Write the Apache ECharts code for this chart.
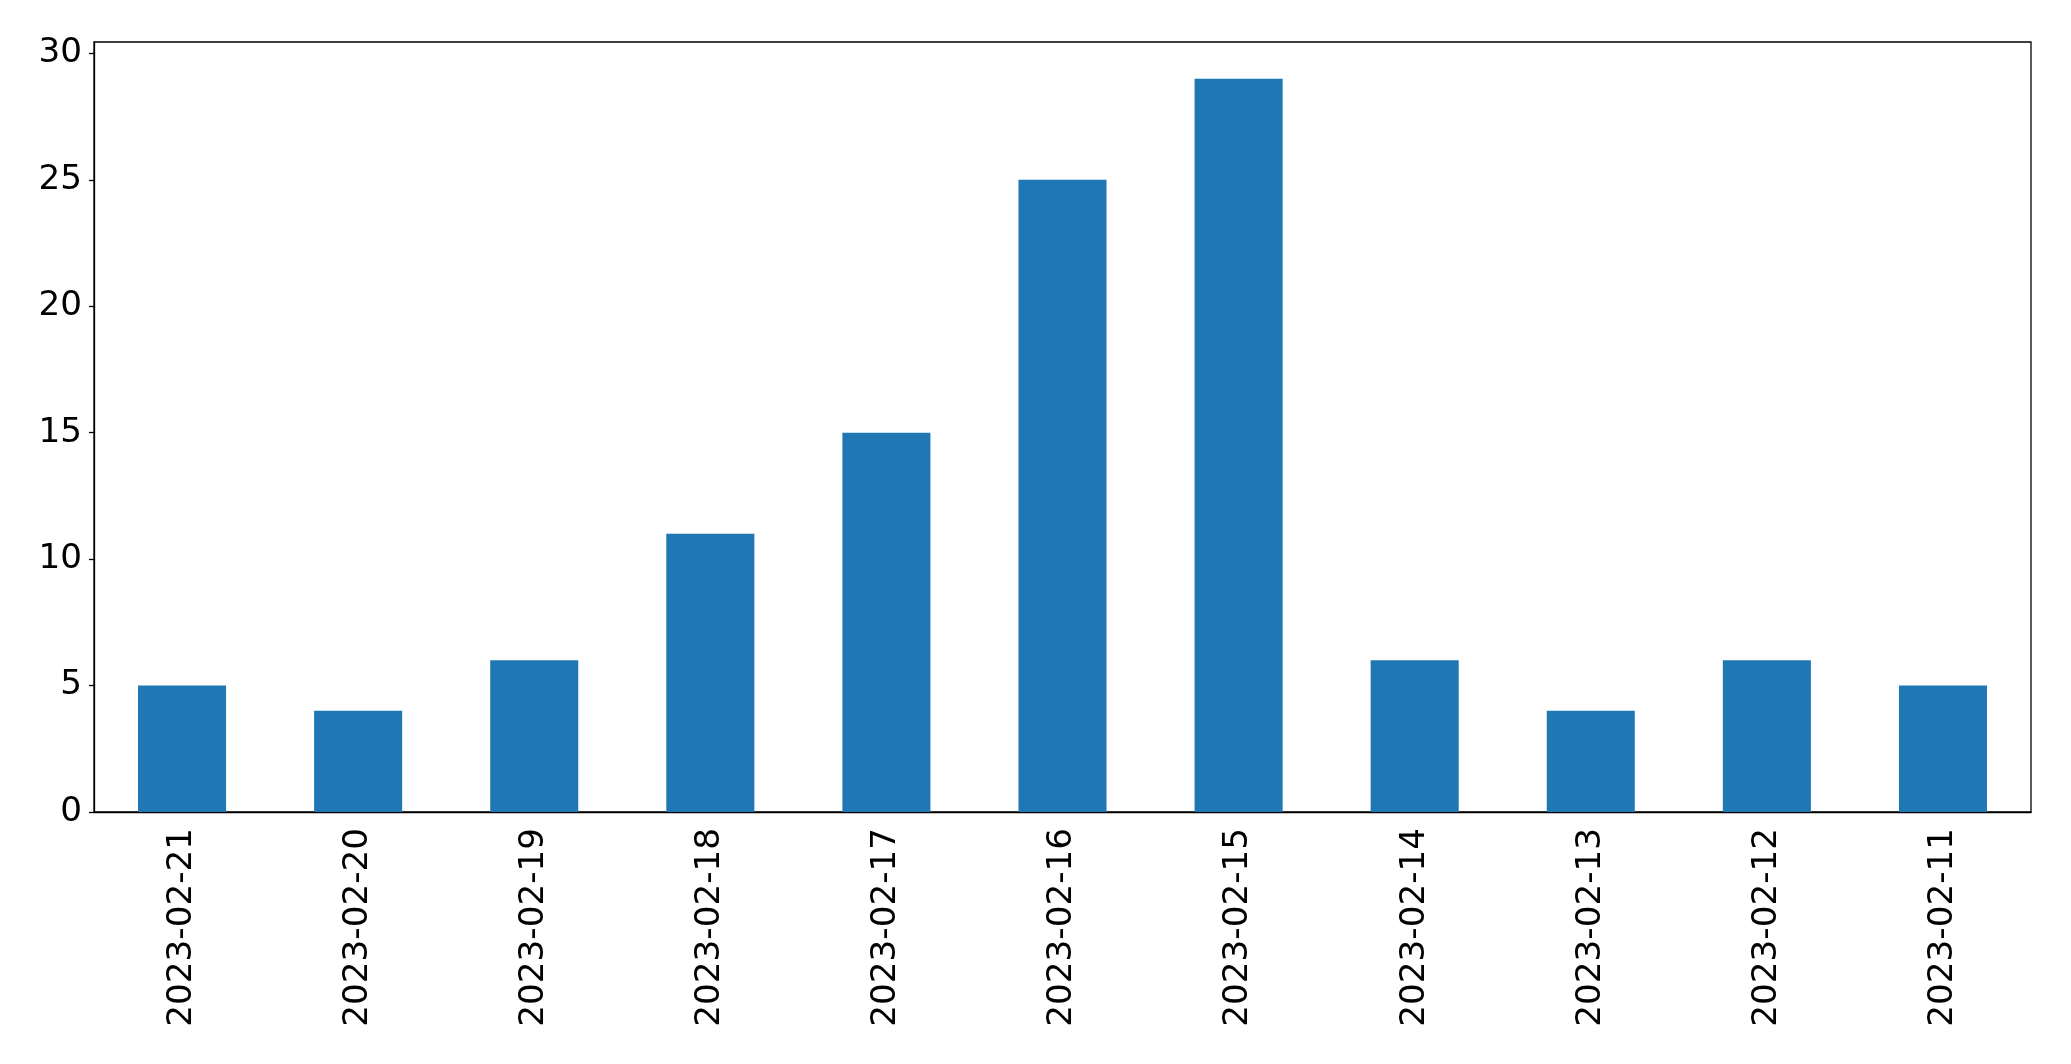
<!DOCTYPE html>
<html><head><meta charset="utf-8">
<script src="https://cdn.jsdelivr.net/npm/echarts@6/dist/echarts.min.js"></script>
<style>html,body{margin:0;padding:0;background:#fff}#c{width:2071px;height:1064px}</style>
</head><body><div id="c"></div>
<script>
const categories = ["2023-02-21","2023-02-20","2023-02-19","2023-02-18","2023-02-17","2023-02-16","2023-02-15","2023-02-14","2023-02-13","2023-02-12","2023-02-11"];
const values = [5,4,6,11,15,25,29,6,4,6,5];
const yTicks = [0,5,10,15,20,25,30];

const chart = echarts.init(document.getElementById('c'), null, {renderer:'canvas'});
const font = {fontFamily:'DejaVu Sans', fontSize:34.2, color:'#000'};
chart.setOption({
  animation:false,
  grid:{left:94, right:40, top:42, bottom:252, show:true, borderColor:'#000', borderWidth:1.3, backgroundColor:'transparent'},
  xAxis:{type:'category', data:categories, boundaryGap:true,
    axisLine:{lineStyle:{color:'#000', width:1.3}},
    axisTick:{alignWithLabel:true, length:5, lineStyle:{color:'#000', width:1.3}},
    axisLabel:Object.assign({rotate:90, margin:16, interval:0}, font),
    splitLine:{show:false}},
  yAxis:{type:'value', min:0, max:30.45,
    axisLine:{show:true, lineStyle:{color:'#000', width:1.3}},
    axisTick:{show:true, length:5, customValues:yTicks, lineStyle:{color:'#000', width:1.3}},
    axisLabel:Object.assign({margin:12, customValues:yTicks}, font),
    splitLine:{show:false}},
  series:[{type:'bar', data:values, barWidth:'50%', itemStyle:{color:'#1f77b4'}}]
});
</script></body></html>
